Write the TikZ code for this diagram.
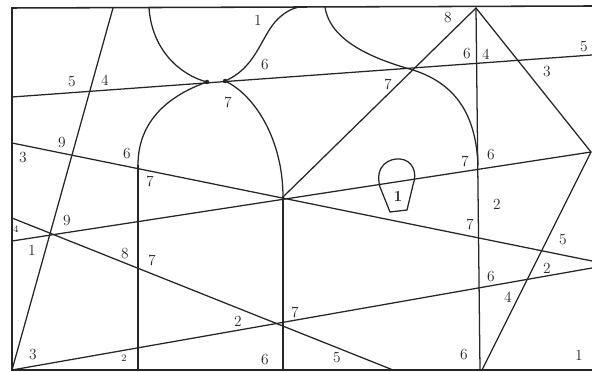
\documentclass[tikz,border=0pt]{standalone}
\usepackage{xcolor}
\definecolor{ink}{HTML}{262626}
\usepackage{tikz}
\usetikzlibrary{calc}
\tikzset{
    pic_frame/.style={draw=ink, line width=1.1pt},
    pic_line/.style={draw=ink, line width=0.9pt, line cap=round, line join=round},
    pic_num/.style={text=ink, font=\fontsize{11}{12}\selectfont, inner sep=0pt},
    pic_tiny/.style={text=ink, font=\scriptsize, inner sep=0pt},
    pic_mark/.style={text=ink, font=\bfseries\fontsize{11}{12}\selectfont, inner sep=0pt}
}

\begin{document}
\begin{tikzpicture}[x=0.025cm, y=-0.025cm]
\useasboundingbox (0,0) rectangle (592,372);
% frame corners
\coordinate (tl) at (12,8);
\coordinate (tr) at (592,6);
\coordinate (bl) at (12,370);
\coordinate (br) at (592,370);
% points where lines meet
\coordinate (apex) at (476,8);
\coordinate (hub) at (283,197);
\coordinate (east) at (591,152);
\coordinate (knotl) at (207,82);
\coordinate (knotr) at (225,81);
\coordinate (archl) at (138,165);
\coordinate (bend) at (413,70);
\coordinate (bendlow) at (478,165);

\draw[pic_frame] (tr) -- (tl) -- (bl) -- (br);

% straight lines
\draw[pic_line] (113,8) -- (bl);
\draw[pic_line] (12,97) -- (592,55);
\draw[pic_line] (12,143) -- (592,261);
\draw[pic_line] (12,241) -- (east);
\draw[pic_line] (12,218) -- (393,370);
\draw[pic_line] (bl) -- (592,268);
\draw[pic_line] (archl) -- (138,370);
\draw[pic_line] (hub) -- (283,370);
\draw[pic_line] (hub) -- (apex);
\draw[pic_line] (apex) -- (480,370);
\draw[pic_line] (apex) -- (east);
\draw[pic_line] (east) -- (482,370);

% curves
\draw[pic_line] (149,8) .. controls (152,50) and (180,75) .. (knotl);
\draw[pic_line] (knotl) .. controls (170,95) and (138,120) .. (archl);
\draw[pic_line] (knotr) .. controls (255,95) and (283,140) .. (hub);
\draw[pic_line] (knotr) .. controls (255,68) and (260,40) .. (275,22) .. controls (283,13) and (292,8) .. (300,7);
\draw[pic_line] (325,7) .. controls (330,40) and (370,58) .. (bend) .. controls (460,85) and (476,120) .. (bendlow);
\fill[ink] (knotl) circle (1.6pt) (knotr) circle (1.6pt);

% lamp
\draw[pic_line] (380,187) .. controls (374,165) and (390,158) .. (400,159) .. controls (412,160) and (418,172) .. (413,185) -- (407,210) -- (390,212) -- cycle;
\node[pic_mark] (lampnum) at (398,196) {1};

% numbers
\foreach \x/\y/\t [count=\i] in {258/20/1, 265/65/6, 72/82/5, 105/80/4, 228/102/7,
    62/143/9, 23/158/3, 127/154/6, 150/181/7, 448/18/8, 467/54/6, 486/54/4,
    584/47/5, 547/72/3, 388/84/7, 465/161/7, 491/155/6, 497/204/2, 470/224/7,
    563/240/5, 547/268/2, 491/277/6, 508/297/4, 464/355/6, 579/355/1, 337/358/5,
    295/312/7, 238/321/2, 265/360/6, 33/355/3, 125/254/8, 152/260/7, 32/250/1,
    67/221/9}
    \node[pic_num] (num\i) at (\x,\y) {\t};
\node[pic_tiny] (numa) at (16,229) {4};
\node[pic_tiny] (numb) at (124,358) {2};
\end{tikzpicture}
\end{document}
